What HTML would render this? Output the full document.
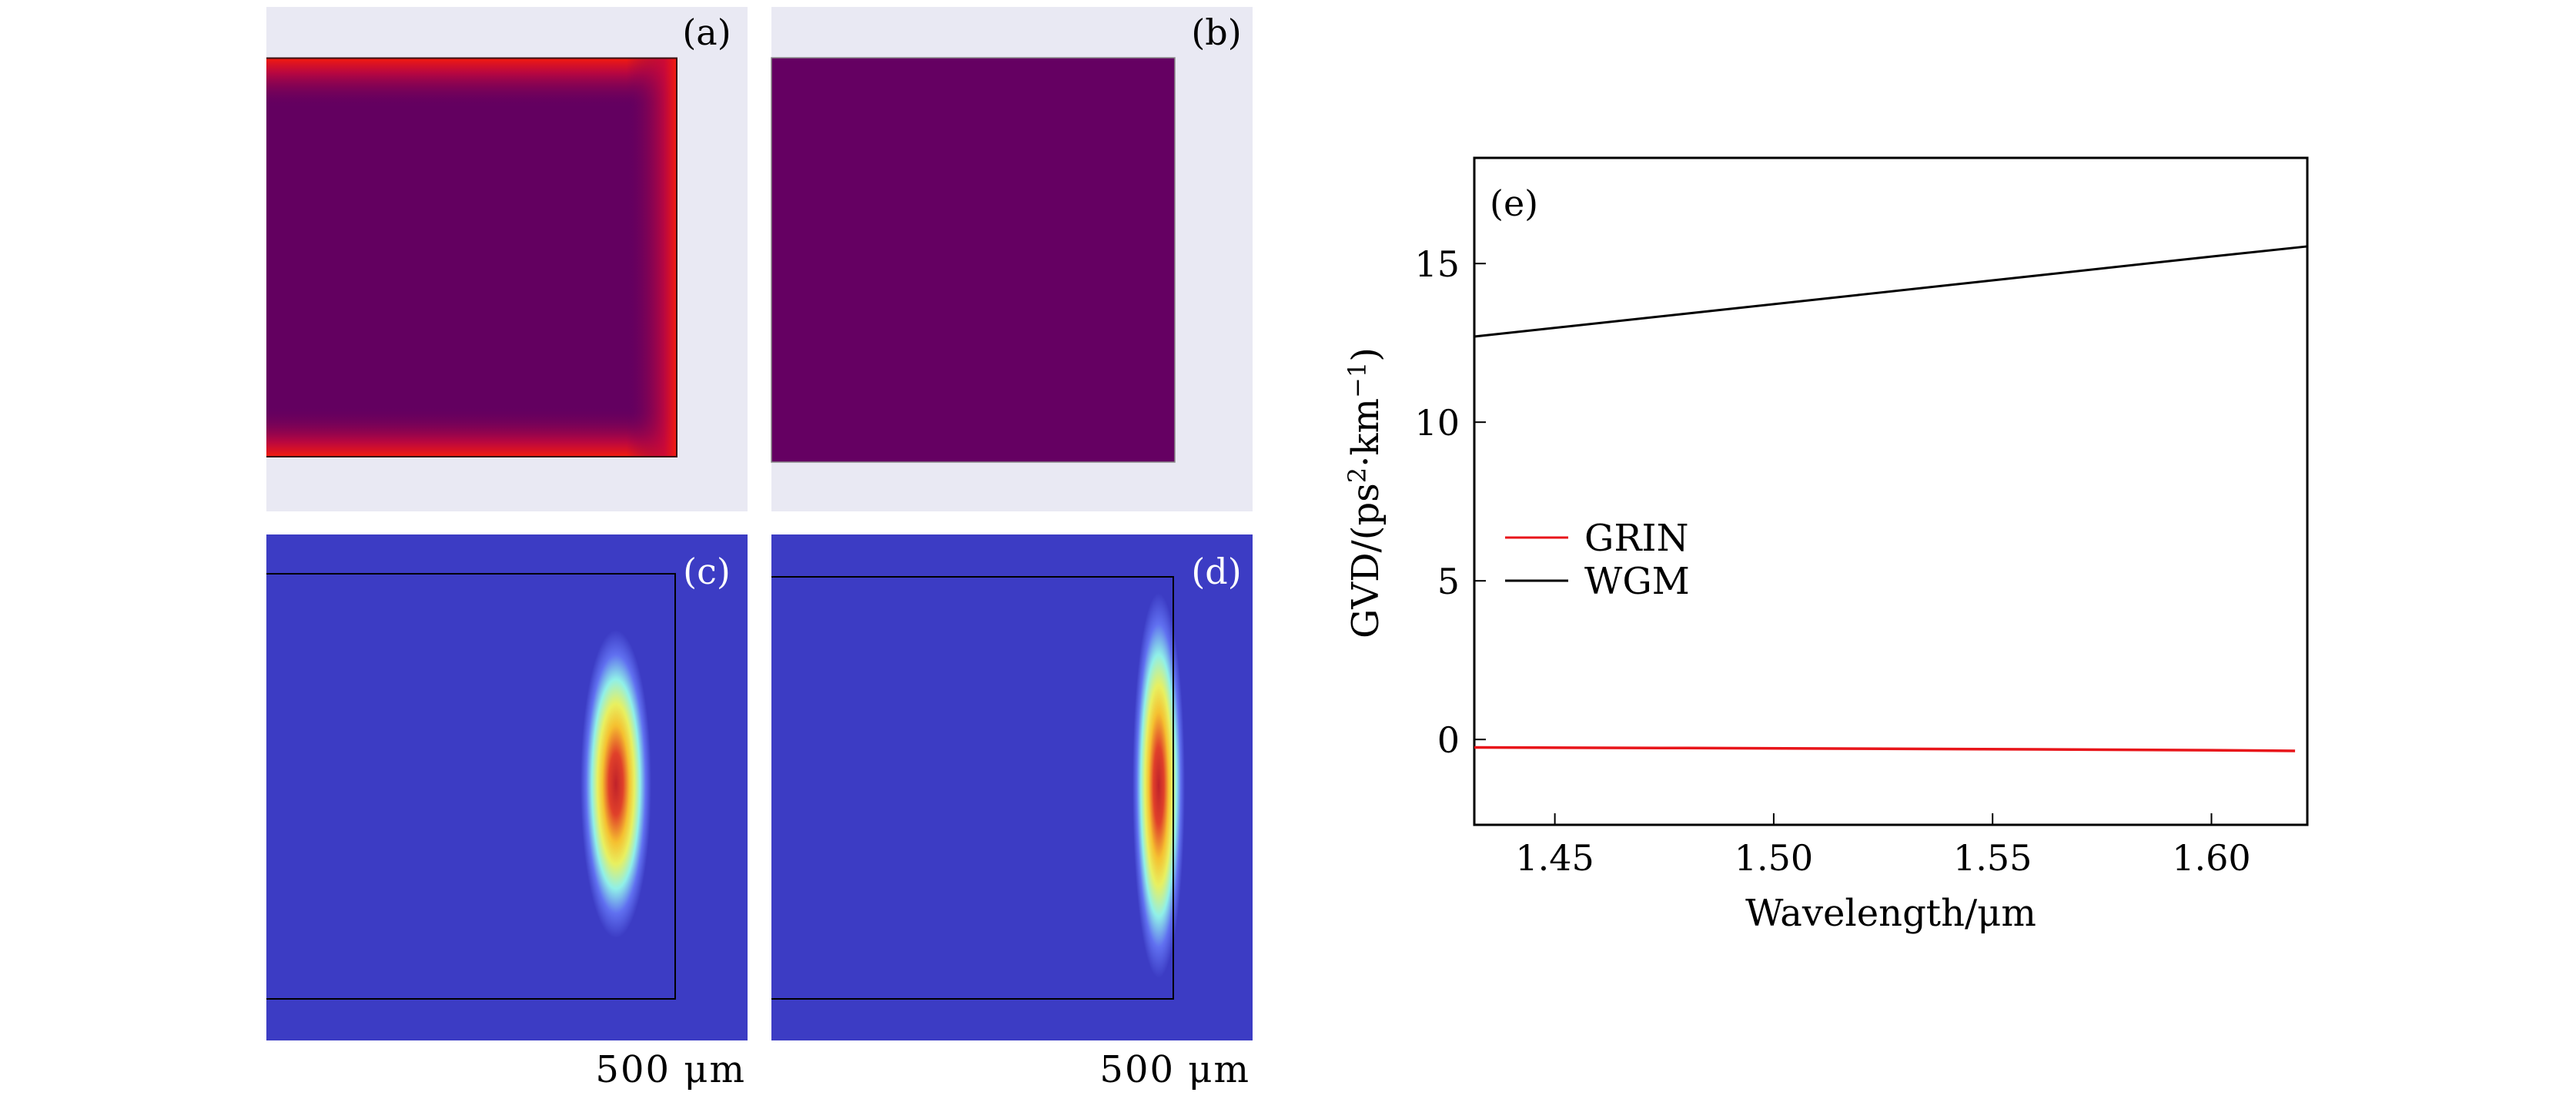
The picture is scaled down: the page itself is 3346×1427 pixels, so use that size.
<!DOCTYPE html>
<html><head><meta charset="utf-8"><style>
body{margin:0;background:#fff;}
svg{display:block;}
text{font-family:"DejaVu Serif","Liberation Serif",serif;}
</style></head><body>
<svg id="root" width="3346" height="1427" viewBox="0 0 3346 1427" xmlns="http://www.w3.org/2000/svg" font-family="DejaVu Serif, Liberation Serif, serif">
<defs>
  <linearGradient id="gTop" x1="0" y1="0" x2="0" y2="1">
    <stop offset="0" stop-color="#f51c0c"/><stop offset="0.3" stop-color="#c8083a" stop-opacity="0.85"/><stop offset="1" stop-color="#630060" stop-opacity="0"/>
  </linearGradient>
  <linearGradient id="gBot" x1="0" y1="1" x2="0" y2="0">
    <stop offset="0" stop-color="#f51c0c"/><stop offset="0.3" stop-color="#c8083a" stop-opacity="0.85"/><stop offset="1" stop-color="#630060" stop-opacity="0"/>
  </linearGradient>
  <linearGradient id="gRight" x1="1" y1="0" x2="0" y2="0">
    <stop offset="0" stop-color="#f51c0c"/><stop offset="0.25" stop-color="#c8083a" stop-opacity="0.85"/><stop offset="1" stop-color="#630060" stop-opacity="0"/>
  </linearGradient>
  <radialGradient id="jet" cx="0.5" cy="0.5" r="0.5">
    <stop offset="0" stop-color="#c0222a"/>
    <stop offset="0.2" stop-color="#e0402a"/>
    <stop offset="0.38" stop-color="#f5c030"/>
    <stop offset="0.52" stop-color="#e8f060"/>
    <stop offset="0.68" stop-color="#90f0e8"/>
    <stop offset="0.84" stop-color="#6070f0"/>
    <stop offset="1" stop-color="#3c3cc4"/>
  </radialGradient>
</defs>

<g>
  <rect x="346" y="9" width="625" height="655" fill="#e9e9f3"/>
  <rect x="346" y="75" width="533" height="518" fill="#630060"/>
  <rect x="346" y="75" width="533" height="65" fill="url(#gTop)"/>
  <rect x="346" y="528" width="533" height="65" fill="url(#gBot)"/>
  <rect x="814" y="75" width="65" height="518" fill="url(#gRight)"/>
  <path d="M346 75.5 H879 V593 H346" fill="none" stroke="#3a1010" stroke-width="2"/>
  <text x="918" y="58" font-size="46" text-anchor="middle">(a)</text>
</g>

<g>
  <rect x="1002" y="9" width="625" height="655" fill="#e9e9f3"/>
  <rect x="1002" y="75" width="524" height="525" fill="#650062" stroke="#888" stroke-width="1.5"/>
  <text x="1580" y="58" font-size="46" text-anchor="middle">(b)</text>
</g>

<g>
  <rect x="346" y="694" width="625" height="657" fill="#3c3cc4"/>
  <ellipse cx="800" cy="1018" rx="46" ry="200" fill="url(#jet)"/>
  <path d="M346 745 H877 V1297 H346" fill="none" stroke="#000" stroke-width="2"/>
  <text x="918" y="758" font-size="46" fill="#fff" text-anchor="middle">(c)</text>
  <text x="969" y="1405" font-size="48" text-anchor="end" letter-spacing="2">500 μm</text>
</g>

<g>
  <rect x="1002" y="694" width="625" height="657" fill="#3c3cc4"/>
  <ellipse cx="1505" cy="1020" rx="34" ry="250" fill="url(#jet)"/>
  <path d="M1002 749 H1524 V1297 H1002" fill="none" stroke="#000" stroke-width="2"/>
  <text x="1580" y="758" font-size="46" fill="#fff" text-anchor="middle">(d)</text>
  <text x="1624" y="1405" font-size="48" text-anchor="end" letter-spacing="2">500 μm</text>
</g>

<g id="chart"></g>
</svg>
<script>
const xTicks = [1.45, 1.50, 1.55, 1.60];
const xTickLabels = ["1.45", "1.50", "1.55", "1.60"];
const yTicks = [0, 5, 10, 15];
const yTickLabels = ["0", "5", "10", "15"];
const wavelengths = [1.4316, 1.48, 1.52, 1.56, 1.60, 1.6219];
const wgmValues = [12.70, 13.42, 14.02, 14.62, 15.22, 15.54];
const grinWavelengths = [1.4316, 1.48, 1.52, 1.56, 1.60, 1.6191];
const grinValues = [-0.25, -0.27, -0.29, -0.31, -0.34, -0.36];

const NS = "http://www.w3.org/2000/svg";
const L = 1915, R = 2997, T = 205, B = 1071;
const xMin = 1.4316, xMax = 1.6219, yMin = -2.69, yMax = 18.33;
const sx = v => L + (v - xMin) / (xMax - xMin) * (R - L);
const sy = v => B - (v - yMin) / (yMax - yMin) * (B - T);
const chart = document.getElementById('chart');
function mk(tag, attrs, parent) {
  const e = document.createElementNS(NS, tag);
  for (const k in attrs) e.setAttribute(k, attrs[k]);
  (parent || chart).appendChild(e);
  return e;
}
let e;
e = mk('rect', {x: L, y: T, width: R - L, height: B - T, fill: '#fff', stroke: '#000', 'stroke-width': 3});



xTicks.forEach((v, i) => {
  const x = sx(v);
  let t = mk('line', {x1: x, x2: x, y1: B, y2: B - 15, stroke: '#000', 'stroke-width': 2});
  
  
  let lb = mk('text', {x: x, y: 1130, 'font-size': 46, 'text-anchor': 'middle'});
  lb.textContent = xTickLabels[i];
  
  
});
yTicks.forEach((v, i) => {
  const y = sy(v);
  let t = mk('line', {x1: L, x2: L + 15, y1: y, y2: y, stroke: '#000', 'stroke-width': 2});
  
  
  let lb = mk('text', {x: 1896, y: y + 17, 'font-size': 46, 'text-anchor': 'end'});
  lb.textContent = yTickLabels[i];
  
  
});

let p = mk('polyline', {points: wavelengths.map((w, i) => sx(w) + ',' + sy(wgmValues[i])).join(' '), fill: 'none', stroke: '#000', 'stroke-width': 3});


p = mk('polyline', {points: grinWavelengths.map((w, i) => sx(w) + ',' + sy(grinValues[i])).join(' '), fill: 'none', stroke: '#e8151a', 'stroke-width': 3.5});



let tl = mk('text', {x: 1935, y: 280, 'font-size': 46});
tl.textContent = '(e)';



let lg = mk('g', {});


let l1 = mk('line', {x1: 1955, x2: 2037, y1: 698, y2: 698, stroke: '#e8151a', 'stroke-width': 3}, lg);


let t1 = mk('text', {x: 2058, y: 715, 'font-size': 48}, lg);
t1.textContent = 'GRIN';


let l2 = mk('line', {x1: 1955, x2: 2037, y1: 754, y2: 754, stroke: '#000', 'stroke-width': 3}, lg);


let t2 = mk('text', {x: 2058, y: 771, 'font-size': 48}, lg);
t2.textContent = 'WGM';



let xl = mk('text', {x: 2456, y: 1202, 'font-size': 48, 'text-anchor': 'middle'});
xl.textContent = 'Wavelength/μm';



let yl = mk('text', {x: 0, y: 0, 'font-size': 48, 'text-anchor': 'middle', transform: 'translate(1790,640) rotate(-90)'});
yl.innerHTML = 'GVD/(ps<tspan dy="-16" font-size="32">2</tspan><tspan dy="16">·km</tspan><tspan dy="-16" font-size="32">−1</tspan><tspan dy="16">)</tspan>';


</script>
</body></html>
